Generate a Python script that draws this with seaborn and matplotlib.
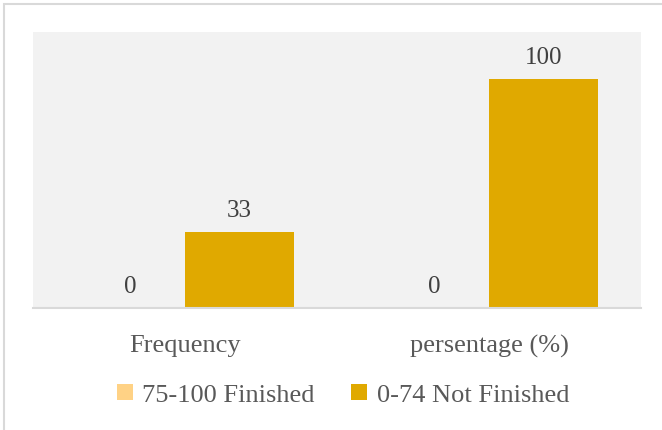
import matplotlib
matplotlib.use("Agg")
import matplotlib.pyplot as plt
import seaborn as sns
import pandas as pd
from matplotlib.patches import Rectangle

categories = ["Frequency", "persentage (%)"]
series = ["75-100 Finished", "0-74 Not Finished"]
finished = [0, 0]
not_finished = [33, 100]
colors = ["#FFD285", "#E0A900"]

df = pd.DataFrame({
    "category": categories * 2,
    "group": [series[0]] * 2 + [series[1]] * 2,
    "value": finished + not_finished,
})

sns.set_theme(style="white")
plt.rcParams["font.family"] = ["Liberation Serif", "DejaVu Serif"]

W, H = 662, 431
fig = plt.figure(figsize=(W / 100, H / 100), dpi=100)
ax = fig.add_axes([33 / W, 1 - 309 / H, (641 - 33) / W, (309 - 33) / H])

sns.barplot(data=df, x="category", y="value", hue="group", order=categories,
            hue_order=series, palette=colors, width=0.72, saturation=1,
            linewidth=0, ax=ax, legend=False)

ax.set_facecolor("#F2F2F2")
ax.set_ylim(0, 120.5)
ax.set_xlim(-0.5, 1.5)
ax.set_yticks([])
ax.set_xlabel("")
ax.set_ylabel("")
for side in ["top", "right", "left"]:
    ax.spines[side].set_visible(False)
ax.spines["bottom"].set_color("#D9D9D9")
ax.spines["bottom"].set_linewidth(1.5)
ax.tick_params(axis="x", length=0, pad=19, labelsize=19, labelcolor="#595959")

for cont in ax.containers:
    ax.bar_label(cont, fmt="%g", padding=8, fontsize=18, color="#404040")

# legend
handles = [Rectangle((0, 0), 1, 1, facecolor=c, edgecolor="none") for c in colors]
fig.legend(handles, series, loc="center", bbox_to_anchor=(343 / W, 1 - 396 / H),
           ncol=2, frameon=False, fontsize=19, handlelength=0.6, handleheight=0.6,
           handletextpad=0.35, columnspacing=1.4, labelcolor="#595959")

# chart frame
fig.patches.append(Rectangle((4 / W, -0.1), 1.2, 1 - 5 / H + 0.1,
                             transform=fig.transFigure, fill=False,
                             edgecolor="#D9D9D9", linewidth=1.5))

fig.savefig("out.png", dpi=100)
